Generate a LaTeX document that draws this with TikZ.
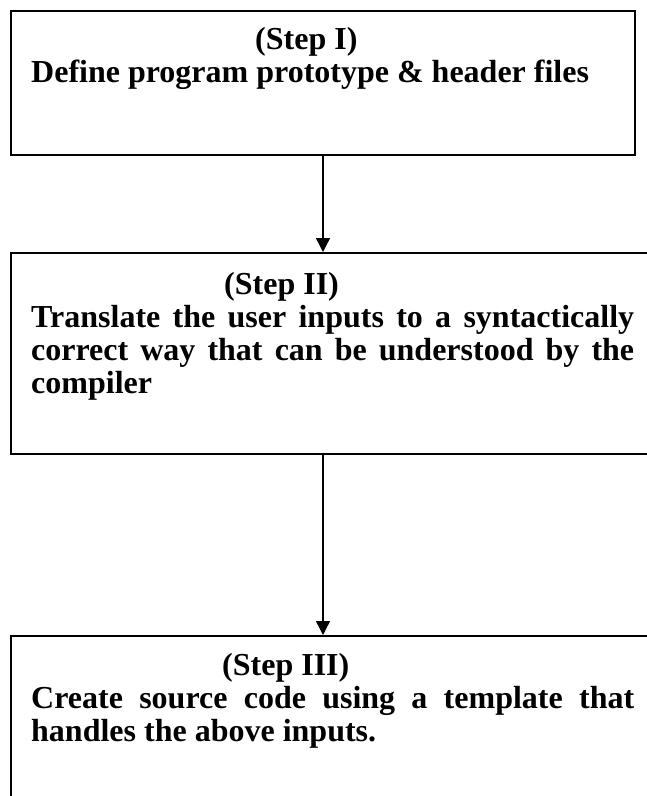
\documentclass[tikz,border=0pt]{standalone}
\usepackage{fontspec}
\setmainfont{Liberation Serif}
\usetikzlibrary{arrows.meta}
\tikzset{
  stepbox/.style={draw=black, line width=2pt, inner sep=0pt, anchor=north west},
  txt/.style={anchor=base west, inner sep=0pt, font=\fontsize{32}{34}\selectfont\bfseries},
  arr/.style={line width=1.4pt, -{Triangle[width=14pt,length=14pt]}}
}
\begin{document}
\begin{tikzpicture}[x=1pt,y=1pt]
\useasboundingbox (0,0) rectangle (647,-796);
\clip (0,0) rectangle (647,-796);
\fill[white] (0,0) rectangle (647,-796);
% boxes
\node[stepbox, minimum width=624pt, minimum height=144pt] (b1) at (10,-10) {};
\node[stepbox, minimum width=680pt, minimum height=201pt] (b2) at (10,-252) {};
\node[stepbox, minimum width=680pt, minimum height=220pt] (b3) at (10,-635) {};
% texts
\node[txt] (s1) at (255,-49) {(Step I)};
\node[txt] (t1) at (31,-82) {Define program prototype \& header files};
\node[txt] (s2) at (224,-294) {(Step II)};
\node[txt] (t2a) at (31,-327) {\makebox[603pt][s]{Translate the user inputs to a syntactically}};
\node[txt] (t2b) at (31,-360) {\makebox[603pt][s]{correct way that can be understood by the}};
\node[txt] (t2c) at (31,-393) {compiler};
\node[txt] (s3) at (222,-675) {(Step III)};
\node[txt] (t3a) at (31,-708) {\makebox[603pt][s]{Create source code using a template that}};
\node[txt] (t3b) at (31,-741) {handles the above inputs.};
% connectors
\draw[arr] (b1.south) -- (b1.south |- b2.north);
\draw[arr] (b1.south |- b2.south) -- (b1.south |- b3.north);
\end{tikzpicture}
\end{document}
